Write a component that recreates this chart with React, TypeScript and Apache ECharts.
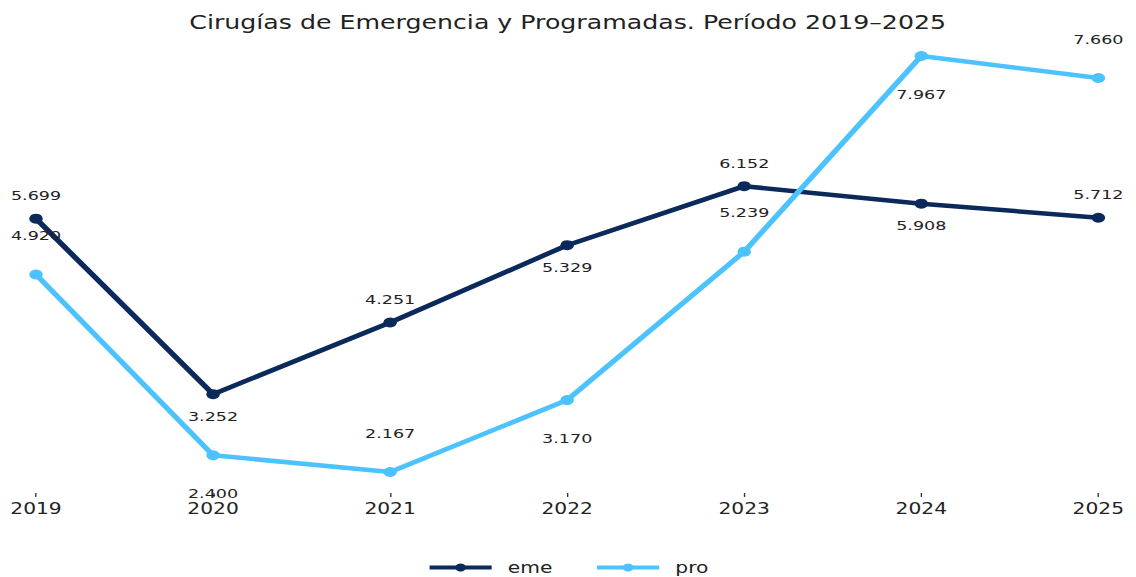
import React, { useEffect, useRef } from "react";
import * as echarts from "echarts";

const years = ["2019", "2020", "2021", "2022", "2023", "2024", "2025"];
const emeValues = [5699, 3252, 4251, 5329, 6152, 5908, 5712];
const proValues = [4920, 2400, 2167, 3170, 5239, 7967, 7660];

const S = 1.35;
const W = 1136;
const H = 577;

const fmt = (v: number) => {
  const s = String(Math.round(v));
  return s.replace(/\B(?=(\d{3})+(?!\d))/g, ".");
};

export default function App() {
  const ref = useRef<HTMLDivElement>(null);
  useEffect(() => {
    if (!ref.current) return;
    const chart = echarts.init(ref.current, undefined, { renderer: "svg" });
    const mk = (name: string, vals: number[], color: string, dist: number) => ({
      name,
      type: "line",
      data: vals.map((v, i) => ({
        value: v,
        label: { position: i % 2 === 0 ? "top" : "bottom" },
      })),
      symbol: "circle",
      symbolSize: 10,
      lineStyle: { width: 4.5, color },
      itemStyle: { color },
      label: {
        show: true,
        distance: dist,
        formatter: (p: any) => fmt(p.value),
        fontFamily: "DejaVu Sans",
        fontSize: 13,
        color: "#222",
      },
    });
    chart.setOption({
      animation: false,
      title: {
        text: "Cirugías de Emergencia y Programadas. Período 2019–2025",
        left: "center",
        top: 8,
        textStyle: {
          fontFamily: "DejaVu Sans",
          fontWeight: "normal",
          fontSize: 18.7,
          color: "#222",
        },
      },
      legend: {
        bottom: -3,
        itemWidth: 46,
        itemHeight: 10,
        itemGap: 31,
        lineStyle: { width: 4 },
        textStyle: {
          fontFamily: "DejaVu Sans",
          fontSize: 15,
          color: "#222",
          padding: [0, 0, 0, 7],
        },
      },
      grid: { left: 36 / S, right: 37 / S, top: 40, bottom: 84 },
      xAxis: {
        type: "category",
        data: years,
        boundaryGap: false,
        axisLine: { show: false },
        axisTick: { show: true, length: 4, alignWithLabel: true, lineStyle: { color: "#333" } },
        axisLabel: {
          margin: 8,
          fontFamily: "DejaVu Sans",
          fontSize: 15,
          color: "#222",
        },
      },
      yAxis: {
        type: "value",
        show: false,
        min: 1874,
        max: 8190,
        splitLine: { show: false },
      },
      series: [
        mk("eme", emeValues, "#0b2a5b", 11),
        mk("pro", proValues, "#4cc3ff", 27),
      ],
    });
    return () => chart.dispose();
  }, []);
  return (
    <div
      style={{
        position: "absolute",
        left: 0,
        top: 0,
        width: W,
        height: H,
        overflow: "hidden",
        background: "#fff",
      }}
    >
      <div
        ref={ref}
        style={{
          width: W / S,
          height: H,
          transform: `scaleX(${S})`,
          transformOrigin: "0 0",
        }}
      />
    </div>
  );
}
